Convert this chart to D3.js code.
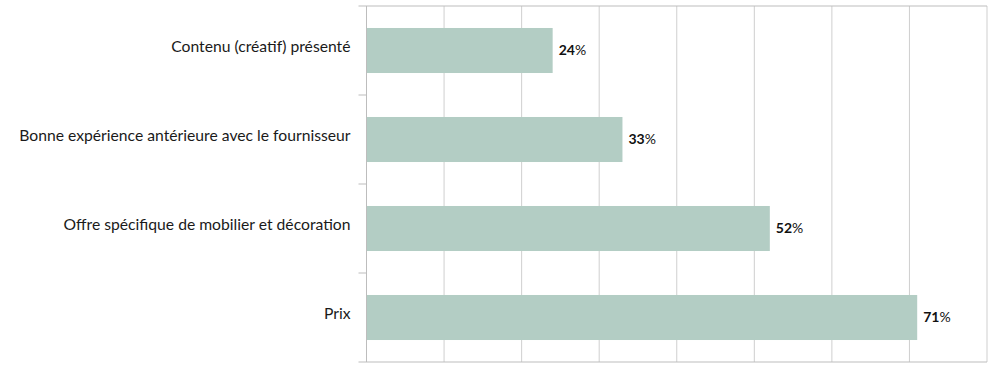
<!DOCTYPE html>
<html>
<head>
<meta charset="utf-8">
<script src="https://cdn.jsdelivr.net/npm/d3@7"></script>
<style>
    body { margin: 0; background: #fff; }
    .label { font-family: Lato, sans-serif; font-size: 15.7px; fill: #1a1a1a; }
    .value { font-family: Lato, sans-serif; font-size: 14px; fill: #111; }
</style>
</head>
<body>
<svg id="chart"></svg>
<script>
// data
let categories = [
    'Contenu (créatif) présenté',
    'Bonne expérience antérieure avec le fournisseur',
    'Offre spécifique de mobilier et décoration',
    'Prix'
];
let values = [24, 33, 52, 71];
let xTicks = [0, 10, 20, 30, 40, 50, 60, 70, 80];

// sizes
let width = 1000;
let height = 381;
let plotLeft = 366.5;
let plotRight = 987;
let plotTop = 6;
let plotBottom = 362;
let tickOut = 8;

let barColor = '#b3cdc4';
let gridColor = '#cfcfcf';
let axisColor = '#bdbdbd';

let svg = d3.select('#chart')
    .attr('width', width)
    .attr('height', height);

// scales
let xScale = d3.scaleLinear()
    .domain([0, 80])
    .range([plotLeft, plotRight]);

let yScale = d3.scaleBand()
    .domain(categories)
    .range([plotTop, plotBottom])
    .paddingInner(0.494)
    .paddingOuter(0.247);

// band boundaries for the outward ticks on the category axis
let bandStep = (plotBottom - plotTop) / categories.length;
let bounds = d3.range(categories.length + 1).map(i => plotTop + i * bandStep);

// vertical gridlines
svg.append('g')
    .selectAll('line')
    .data(xTicks.slice(1))
    .enter()
    .append('line')
    .attr('x1', d => xScale(d))
    .attr('x2', d => xScale(d))
    .attr('y1', plotTop)
    .attr('y2', plotBottom)
    .style('stroke', gridColor)
    .style('stroke-width', 1);

// top and bottom lines (with tick extension to the left)
svg.append('g')
    .selectAll('line')
    .data([plotTop, plotBottom])
    .enter()
    .append('line')
    .attr('x1', plotLeft - tickOut)
    .attr('x2', plotRight)
    .attr('y1', d => d)
    .attr('y2', d => d)
    .style('stroke', axisColor)
    .style('stroke-width', 1);

// bars
svg.append('g')
    .selectAll('rect')
    .data(values)
    .enter()
    .append('rect')
    .attr('x', xScale(0))
    .attr('y', (d, i) => yScale(categories[i]))
    .attr('width', d => xScale(d) - xScale(0))
    .attr('height', yScale.bandwidth())
    .style('fill', barColor);

// category axis line and ticks
svg.append('line')
    .attr('x1', plotLeft)
    .attr('x2', plotLeft)
    .attr('y1', plotTop)
    .attr('y2', plotBottom)
    .style('stroke', axisColor);

svg.append('g')
    .selectAll('line')
    .data(bounds.slice(1, -1))
    .enter()
    .append('line')
    .attr('x1', plotLeft - tickOut)
    .attr('x2', plotLeft)
    .attr('y1', d => d)
    .attr('y2', d => d)
    .style('stroke', axisColor);

// category labels
svg.append('g')
    .selectAll('text')
    .data(categories)
    .enter()
    .append('text')
    .attr('class', 'label')
    .attr('x', plotLeft - 16)
    .attr('y', d => yScale(d) + yScale.bandwidth() / 2)
    .attr('dy', '0.1em')
    .style('text-anchor', 'end')
    .text(d => d);

// value labels
let valueText = svg.append('g')
    .selectAll('text')
    .data(values)
    .enter()
    .append('text')
    .attr('class', 'value')
    .attr('x', d => xScale(d) + 6)
    .attr('y', (d, i) => yScale(categories[i]) + yScale.bandwidth() / 2)
    .attr('dy', '0.35em');

valueText.append('tspan')
    .style('font-weight', 'bold')
    .text(d => d);
valueText.append('tspan')
    .text('%');
</script>
</body>
</html>
